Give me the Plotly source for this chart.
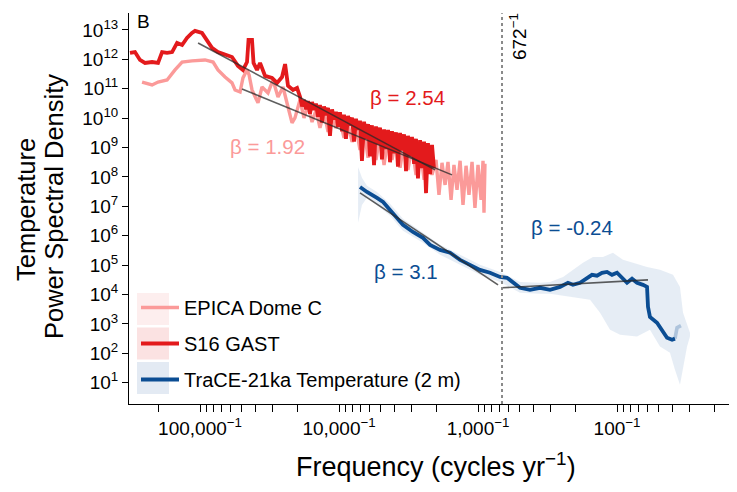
import numpy as np
import plotly.graph_objects as go

# ---------------- data (log10 frequency [cycles/yr], log10 PSD) ----------------
s16_logf = [-5.504, -5.468, -5.432, -5.396, -5.345, -5.302, -5.273, -5.237, -5.201, -5.165,
            -5.129, -5.094, -5.058, -5.036, -4.986, -4.950, -4.914, -4.871, -4.820, -4.770,
            -4.727, -4.691, -4.662, -4.651, -4.626, -4.615, -4.590, -4.568, -4.532, -4.482,
            -4.446, -4.410, -4.388, -4.367, -4.331, -4.302,
            -4.280, -4.266, -4.252, -4.237, -4.223, -4.209, -4.194, -4.180, -4.166, -4.151,
            -4.137, -4.122, -4.108, -4.094, -4.079, -4.065, -4.050, -4.036, -4.022, -4.007,
            -3.993, -3.978, -3.964, -3.950, -3.935, -3.921, -3.906, -3.892, -3.878, -3.863,
            -3.849, -3.835, -3.820, -3.806, -3.791, -3.777, -3.763, -3.748, -3.734, -3.719,
            -3.705, -3.691, -3.676, -3.662, -3.647, -3.633, -3.619, -3.604, -3.590, -3.576,
            -3.561, -3.547, -3.532, -3.518, -3.504, -3.489, -3.475, -3.460, -3.446, -3.432,
            -3.417, -3.403, -3.388, -3.374, -3.360, -3.345, -3.331, -3.317]
s16_logpsd = [12.22, 12.25, 11.98, 11.88, 11.91, 11.88, 12.25, 12.22, 12.25, 12.56,
              12.49, 12.73, 12.90, 12.97, 12.90, 12.66, 12.39, 12.25, 12.15, 12.08,
              11.78, 11.64, 11.91, 12.66, 12.66, 11.88, 11.64, 11.88, 11.44, 11.37,
              11.20, 11.40, 11.84, 11.10, 10.96, 11.03,
              10.72, 10.40, 10.62, 10.30, 10.58, 10.15, 10.55, 10.28, 10.50, 10.05,
              10.45, 9.85, 10.40, 10.10, 10.35, 9.40, 10.30, 9.95, 10.22, 9.70,
              10.20, 9.55, 10.12, 9.30, 10.08, 9.75, 10.02, 9.20, 9.98, 9.60,
              9.92, 8.55, 9.88, 9.30, 9.80, 8.70, 9.76, 8.40, 9.72, 9.10,
              9.68, 8.60, 9.62, 8.95, 9.60, 8.50, 9.56, 8.80, 9.52, 8.35,
              9.50, 8.90, 9.45, 8.20, 9.40, 8.70, 9.36, 8.45, 9.30, 7.95,
              9.25, 8.30, 9.20, 7.45, 9.15, 8.10, 9.09, 8.30]

epica_logf = [-5.417, -5.345, -5.302, -5.237, -5.180, -5.129, -5.058, -4.964, -4.906, -4.871,
              -4.820, -4.770, -4.748, -4.712, -4.691, -4.662, -4.647, -4.626, -4.583, -4.554,
              -4.511, -4.475, -4.439, -4.403, -4.367, -4.338, -4.317,
              -4.281, -4.252, -4.223, -4.194, -4.165, -4.137, -4.108, -4.079, -4.050, -4.022,
              -3.993, -3.964, -3.935, -3.906, -3.878, -3.849, -3.820, -3.791, -3.763, -3.734,
              -3.705, -3.676, -3.647, -3.619, -3.590, -3.561, -3.532, -3.504, -3.475, -3.446,
              -3.417, -3.388, -3.360, -3.331, -3.302, -3.281, -3.259, -3.237, -3.216, -3.194,
              -3.173, -3.151, -3.129, -3.108, -3.086, -3.065, -3.043, -3.022, -3.000, -2.978,
              -2.964, -2.957, -2.950]
epica_logpsd = [11.23, 11.13, 11.23, 11.30, 11.64, 11.91, 11.95, 11.98, 11.91, 11.64,
                11.40, 11.20, 10.96, 10.89, 11.37, 11.64, 11.47, 10.96, 10.52, 11.06,
                10.86, 11.30, 10.72, 11.06, 10.38, 9.84, 10.01,
                10.62, 10.01, 10.45, 9.87, 10.28, 9.67, 10.21, 9.53, 10.08, 9.67,
                9.91, 9.33, 9.80, 9.19, 9.70, 8.92, 9.60, 8.65, 9.50, 8.58,
                9.43, 8.41, 9.36, 8.58, 9.26, 8.31, 9.19, 8.24, 9.09, 8.07,
                8.99, 7.90, 8.92, 8.07, 8.58, 7.39, 8.48, 7.73, 8.51, 7.22,
                8.41, 7.56, 8.55, 7.05, 8.38, 7.39, 8.51, 6.95, 8.41, 7.22,
                8.55, 6.78, 8.45]

trace_logf = [-3.849, -3.799, -3.727, -3.683, -3.633, -3.583, -3.540, -3.468, -3.396, -3.345,
              -3.273, -3.201, -3.129, -3.058, -2.986, -2.914, -2.842, -2.791, -2.748, -2.698,
              -2.626, -2.554, -2.482, -2.410, -2.353, -2.317, -2.266, -2.216, -2.180, -2.144,
              -2.108, -2.072, -2.036, -2.000, -1.964, -1.928, -1.892, -1.856, -1.813, -1.784,
              -1.777, -1.763, -1.712, -1.676, -1.640, -1.604, -1.583]
trace_logpsd = [7.66, 7.49, 7.29, 7.15, 6.88, 6.61, 6.37, 6.13, 5.93, 5.69,
                5.52, 5.42, 5.18, 5.01, 4.84, 4.74, 4.60, 4.57, 4.40, 4.23,
                4.16, 4.23, 4.16, 4.26, 4.40, 4.33, 4.40, 4.57, 4.67, 4.64,
                4.74, 4.77, 4.67, 4.74, 4.57, 4.40, 4.54, 4.40, 4.33, 4.26,
                3.58, 3.24, 3.04, 2.80, 2.53, 2.46, 2.50]
trace_tail_logf = [-1.583, -1.568, -1.540]
trace_tail_logpsd = [2.50, 2.87, 2.94]

band_hi_logf = [-3.863, -3.835, -3.799, -3.727, -3.633, -3.540, -3.396, -3.273, -3.129, -2.986,
                -2.842, -2.698, -2.554, -2.482, -2.388, -2.317, -2.245, -2.173, -2.101, -2.029,
                -1.957, -1.885, -1.784, -1.691, -1.597, -1.547, -1.525, -1.475]
band_hi_logpsd = [8.34, 7.97, 7.70, 7.49, 7.09, 6.58, 6.10, 5.69, 5.35, 5.01,
                  4.77, 4.43, 4.40, 4.43, 4.60, 4.84, 5.08, 5.28, 5.28, 5.42,
                  5.18, 5.08, 4.94, 4.84, 4.67, 4.26, 3.38, 2.70]
band_lo_logf = [-3.863, -3.835, -3.799, -3.727, -3.633, -3.540, -3.396, -3.273, -3.129, -2.986,
                -2.842, -2.698, -2.554, -2.482, -2.317, -2.194, -2.122, -2.050, -1.978, -1.856,
                -1.763, -1.691, -1.619, -1.583, -1.547, -1.525, -1.496, -1.475]
band_lo_logpsd = [6.44, 7.05, 7.29, 7.05, 6.68, 6.17, 5.76, 5.35, 5.01, 4.67,
                  4.43, 4.06, 4.03, 4.03, 3.92, 3.82, 3.38, 2.80, 2.63, 2.57,
                  2.80, 2.23, 2.02, 1.44, 0.93, 1.44, 2.23, 2.57]

# fitted power-law segments
fit_s16_logf = [-5.014, -3.309]
fit_s16_logpsd = [12.56, 8.24]
fit_epica_logf = [-4.698, -3.187]
fit_epica_logpsd = [10.995, 8.071]
fit_trace1_logf = [-3.849, -2.856]
fit_trace1_logpsd = [7.46, 4.33]
fit_trace2_logf = [-2.827, -1.777]
fit_trace2_logpsd = [4.23, 4.50]

betas = ["β = 2.54", "β = 1.92", "β = 3.1", "β = -0.24"]
beta_logf = [-3.507, -4.511, -3.518, -2.324]
beta_logpsd = [10.72, 9.02, 4.77, 6.27]

cutoff_period = 672
major_periods = [100000, 10000, 1000, 100]
major_labels = ["100,000<sup>\u22121</sup>", "10,000<sup>\u22121</sup>",
                "1,000<sup>\u22121</sup>", "100<sup>\u22121</sup>"]
minor_periods = [200000, 90000, 80000, 70000, 60000, 50000, 40000, 30000, 20000,
                 9000, 8000, 7000, 6000, 5000, 4000, 3000, 2000,
                 900, 800, 700, 600, 500, 400, 300, 200,
                 90, 80, 70, 60, 50, 40, 30, 20]
y_exps = list(range(1, 14))

legend_names = ["EPICA Dome C", "S16 GAST", "TraCE-21ka Temperature (2 m)"]

# ---------------- styling ----------------
C_EPICA = "#FB9A99"
C_S16 = "#E31A1C"
C_TRACE = "#0B4D93"
C_BAND = "rgba(190,208,230,0.38)"
C_FIT = "rgba(40,40,40,0.75)"
FONT = "Liberation Sans, Arial, Helvetica, sans-serif"


def p(v):
    return 10 ** np.asarray(v, dtype=float)


fig = go.Figure()

fig.add_trace(go.Scatter(
    x=np.concatenate([p(band_hi_logf), p(band_lo_logf)[::-1]]),
    y=np.concatenate([p(band_hi_logpsd), p(band_lo_logpsd)[::-1]]),
    fill="toself", fillcolor=C_BAND, line=dict(width=0), mode="lines",
    showlegend=False, hoverinfo="skip"))

fig.add_trace(go.Scatter(x=p(epica_logf), y=p(epica_logpsd), mode="lines",
                         line=dict(color=C_EPICA, width=3.4), name=legend_names[0],
                         legendgroup="a"))
fig.add_trace(go.Scatter(x=p(s16_logf), y=p(s16_logpsd), mode="lines",
                         line=dict(color=C_S16, width=3.8), name=legend_names[1],
                         legendgroup="b"))
fig.add_trace(go.Scatter(x=p(trace_logf), y=p(trace_logpsd), mode="lines",
                         line=dict(color=C_TRACE, width=3.8), name=legend_names[2],
                         legendgroup="c"))
fig.add_trace(go.Scatter(x=p(trace_tail_logf), y=p(trace_tail_logpsd), mode="lines",
                         line=dict(color=C_TRACE, width=3.6), opacity=0.25,
                         showlegend=False))

for fx, fy in [(fit_s16_logf, fit_s16_logpsd), (fit_epica_logf, fit_epica_logpsd),
               (fit_trace1_logf, fit_trace1_logpsd), (fit_trace2_logf, fit_trace2_logpsd)]:
    fig.add_trace(go.Scatter(x=p(fx), y=p(fy), mode="lines",
                             line=dict(color=C_FIT, width=1.6), showlegend=False))

fig.add_trace(go.Scatter(x=[1 / cutoff_period, 1 / cutoff_period], y=[10 ** 0.28, 10 ** 13.57],
                         mode="lines", line=dict(color="#8a8a8a", width=2, dash="dot"),
                         showlegend=False))

# page geometry: the page body has an 8 px margin, so the figure starts at (8, 8)
OFF = 8
W, H = 737 - 2 * OFF, 492 - 2 * OFF
L, R, T, B = 129 - OFF, 0, 13 - OFF, H - (404 - OFF)
pw, ph = W - L - R, H - T - B


def px(xpage):
    return (xpage - OFF - L) / pw


def py(ypage):
    return (H - B - (ypage - OFF)) / ph


annotations = []
beta_colors = [C_S16, C_EPICA, C_TRACE, C_TRACE]
for t, bx, by, c in zip(betas, beta_logf, beta_logpsd, beta_colors):
    annotations.append(dict(x=bx, y=by, xref="x", yref="y", text=t, showarrow=False,
                            xanchor="center", yanchor="middle",
                            font=dict(size=20.5, color=c, family=FONT)))
annotations.append(dict(x=np.log10(1 / cutoff_period), y=py(37), xref="x", yref="paper",
                        text="672<sup>\u22121</sup>", textangle=-90, showarrow=False,
                        xanchor="center", yanchor="middle", xshift=16,
                        font=dict(size=19, color="black", family=FONT)))
annotations.append(dict(x=px(143.5), y=py(21.5), xref="paper", yref="paper", text="B",
                        showarrow=False, xanchor="center", yanchor="middle",
                        font=dict(size=19, color="black", family=FONT)))
annotations.append(dict(x=px(436), y=py(465), xref="paper", yref="paper",
                        text="Frequency (cycles yr<sup>\u22121</sup>)", showarrow=False,
                        xanchor="center", yanchor="middle",
                        font=dict(size=27, color="black", family=FONT)))
annotations.append(dict(x=px(26), y=py(210), xref="paper", yref="paper",
                        text="Temperature", textangle=-90, showarrow=False,
                        xanchor="center", yanchor="middle",
                        font=dict(size=25.5, color="black", family=FONT)))
annotations.append(dict(x=px(54), y=py(207), xref="paper", yref="paper",
                        text="Power Spectral Density", textangle=-90, showarrow=False,
                        xanchor="center", yanchor="middle",
                        font=dict(size=25.5, color="black", family=FONT)))

shapes = []
key_fills = ["#FDEEEE", "#FBE2E2", "#E3EAF3"]
key_tops = [293, 327.5, 362]
for f, top in zip(key_fills, key_tops):
    shapes.append(dict(type="rect", xref="paper", yref="paper", x0=px(137), x1=px(169),
                       y0=py(top + 32), y1=py(top), fillcolor=f, line=dict(width=0),
                       layer="below"))

fig.update_layout(
    width=W, height=H, margin=dict(l=L, r=R, t=T, b=B, autoexpand=False),
    paper_bgcolor="white", plot_bgcolor="white",
    font=dict(family=FONT, color="black", size=19),
    showlegend=True,
    legend=dict(x=px(136), y=py(288), xanchor="left", yanchor="top",
                bgcolor="rgba(0,0,0,0)", font=dict(size=20, family=FONT, color="black"),
                itemwidth=38, tracegroupgap=7),
    annotations=annotations, shapes=shapes,
    xaxis=dict(type="log", range=[-5.511, -5 + (729 - 200) / 139], showgrid=False,
               zeroline=False, showline=True, linecolor="black", linewidth=1,
               ticks="outside", ticklen=7, tickcolor="black",
               tickmode="array", tickvals=[1 / v for v in major_periods], ticktext=major_labels,
               tickfont=dict(size=19, color="black", family=FONT),
               minor=dict(tickmode="array", tickvals=[1 / v for v in minor_periods],
                          ticks="outside", ticklen=7, tickcolor="black", showgrid=False)),
    yaxis=dict(type="log", range=[1 - (404 - 382.7) / 29.42, 13.578], showgrid=False,
               zeroline=False, showline=True, linecolor="black", linewidth=1,
               ticks="outside", ticklen=6, tickcolor="black",
               tickmode="array", tickvals=[10.0 ** e for e in y_exps],
               ticktext=[f"10<sup>{e}</sup>" for e in y_exps],
               tickfont=dict(size=19, color="black", family=FONT)),
)

fig.write_html("out.html")
